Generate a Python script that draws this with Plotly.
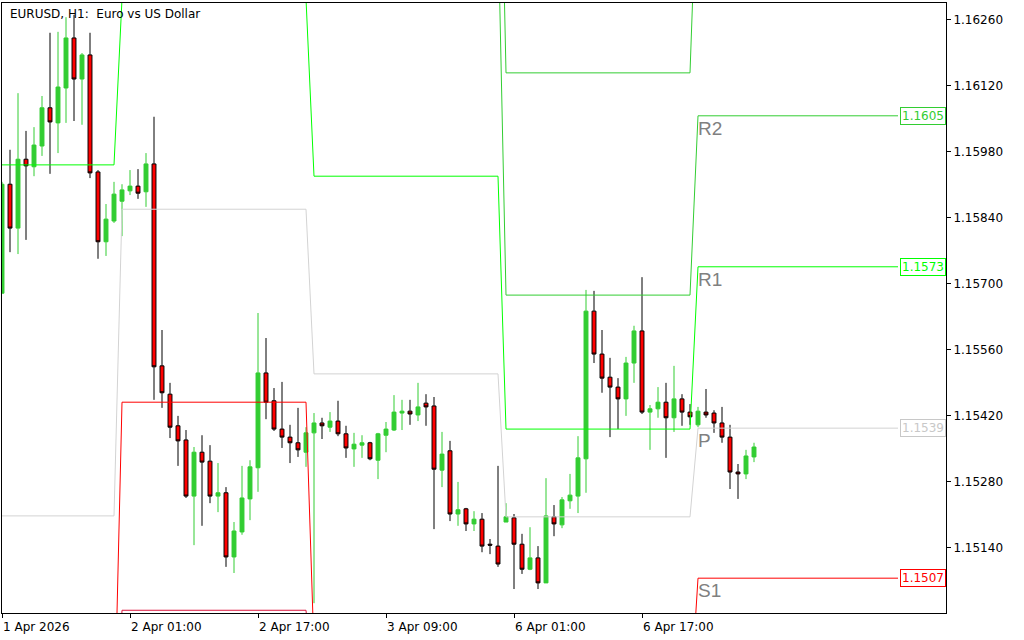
import pandas as pd
import plotly.graph_objects as go

# EURUSD H1 bars, 1 Apr 2026 09:00 .. 7 Apr 07:00 (weekend skipped)
opens = [1.15680, 1.15911, 1.15818, 1.15964, 1.15948, 1.15992, 1.16073, 1.16041, 1.16115, 1.16221,
         1.16134, 1.16185, 1.15937, 1.15789, 1.15833, 1.15875, 1.15897, 1.15907, 1.15895, 1.15954,
         1.15526, 1.15466, 1.15399, 1.15369, 1.15250, 1.15343, 1.15324, 1.15250, 1.15257, 1.15121,
         1.15174, 1.15244, 1.15310, 1.15511, 1.15452, 1.15392, 1.15375, 1.15363, 1.15343, 1.15384,
         1.15405, 1.15396, 1.15409, 1.15382, 1.15350, 1.15358, 1.15363, 1.15326, 1.15379, 1.15390,
         1.15426, 1.15430, 1.15422, 1.15447, 1.15441, 1.15305, 1.15346, 1.15212, 1.15223, 1.15191,
         1.15201, 1.15148, 1.15144, 1.15195, 1.15204, 1.15148, 1.15095, 1.15119, 1.15066, 1.15206,
         1.15189, 1.15240, 1.15250, 1.15329, 1.15642, 1.15551, 1.15502, 1.15481, 1.15456, 1.15532,
         1.15600, 1.15428, 1.15435, 1.15449, 1.15416, 1.15456, 1.15428, 1.15401, 1.15428, 1.15426,
         1.15405, 1.15375, 1.15301, 1.15297, 1.15333]
highs = [1.15916, 1.15984, 1.16104, 1.16024, 1.16032, 1.16098, 1.16232, 1.16234, 1.16265, 1.16270,
         1.16189, 1.16232, 1.15941, 1.15869, 1.15916, 1.15911, 1.15941, 1.15943, 1.15977, 1.16054,
         1.15602, 1.15490, 1.15420, 1.15390, 1.15354, 1.15379, 1.15358, 1.15320, 1.15269, 1.15195,
         1.15314, 1.15326, 1.15638, 1.15585, 1.15479, 1.15492, 1.15401, 1.15437, 1.15396, 1.15426,
         1.15416, 1.15428, 1.15452, 1.15399, 1.15384, 1.15379, 1.15365, 1.15384, 1.15407, 1.15464,
         1.15454, 1.15454, 1.15490, 1.15466, 1.15460, 1.15386, 1.15367, 1.15280, 1.15225, 1.15218,
         1.15214, 1.15159, 1.15314, 1.15235, 1.15212, 1.15170, 1.15184, 1.15144, 1.15288, 1.15231,
         1.15248, 1.15297, 1.15377, 1.15687, 1.15685, 1.15602, 1.15543, 1.15500, 1.15545, 1.15611,
         1.15714, 1.15443, 1.15481, 1.15490, 1.15526, 1.15466, 1.15445, 1.15439, 1.15477, 1.15432,
         1.15439, 1.15401, 1.15318, 1.15348, 1.15363]
lows = [1.15680, 1.15767, 1.15763, 1.15793, 1.15928, 1.15971, 1.15933, 1.15977, 1.16041, 1.16045,
        1.16037, 1.15924, 1.15753, 1.15759, 1.15829, 1.15801, 1.15888, 1.15880, 1.15863, 1.15454,
        1.15437, 1.15373, 1.15314, 1.15246, 1.15146, 1.15187, 1.15235, 1.15216, 1.15100, 1.15087,
        1.15168, 1.15199, 1.15259, 1.15413, 1.15388, 1.15352, 1.15320, 1.15333, 1.15312, 1.15023,
        1.15371, 1.15386, 1.15377, 1.15331, 1.15312, 1.15331, 1.15326, 1.15286, 1.15343, 1.15388,
        1.15390, 1.15401, 1.15409, 1.15399, 1.15180, 1.15269, 1.15197, 1.15187, 1.15176, 1.15176,
        1.15131, 1.15127, 1.15100, 1.15195, 1.15053, 1.15085, 1.15093, 1.15053, 1.15066, 1.15165,
        1.15182, 1.15223, 1.15214, 1.15257, 1.15532, 1.15469, 1.15375, 1.15392, 1.15420, 1.15490,
        1.15424, 1.15348, 1.15416, 1.15331, 1.15386, 1.15399, 1.15401, 1.15396, 1.15416, 1.15384,
        1.15363, 1.15265, 1.15244, 1.15286, 1.15322]
closes = [1.15911, 1.15818, 1.15964, 1.15950, 1.15994, 1.16073, 1.16043, 1.16117, 1.16221, 1.16134,
          1.16185, 1.15935, 1.15789, 1.15837, 1.15890, 1.15899, 1.15907, 1.15892, 1.15954, 1.15524,
          1.15469, 1.15396, 1.15367, 1.15250, 1.15343, 1.15322, 1.15250, 1.15257, 1.15121, 1.15176,
          1.15246, 1.15312, 1.15511, 1.15449, 1.15392, 1.15375, 1.15363, 1.15348, 1.15384, 1.15405,
          1.15399, 1.15409, 1.15382, 1.15352, 1.15360, 1.15363, 1.15329, 1.15382, 1.15392, 1.15428,
          1.15430, 1.15424, 1.15439, 1.15439, 1.15307, 1.15339, 1.15212, 1.15221, 1.15191, 1.15201,
          1.15144, 1.15146, 1.15106, 1.15206, 1.15148, 1.15095, 1.15119, 1.15066, 1.15208, 1.15191,
          1.15242, 1.15252, 1.15331, 1.15642, 1.15551, 1.15500, 1.15481, 1.15456, 1.15532, 1.15600,
          1.15428, 1.15435, 1.15449, 1.15416, 1.15456, 1.15428, 1.15418, 1.15430, 1.15422, 1.15405,
          1.15375, 1.15301, 1.15297, 1.15335, 1.15354]

# daily pivot levels (one value per trading day, None = not drawn)
r3 = [None, None, 1.16937, 1.16147, 1.16619]
r2 = [None, None, 1.16471, 1.15676, 1.16056]
r1 = [1.15952, 1.16304, 1.15928, 1.15392, 1.15736]
pp = [1.15208, 1.15858, 1.15509, 1.15206, 1.15394]
s1 = [1.14733, 1.15449, 1.14924, 1.14805, 1.15076]
s2 = [1.14606, 1.15008, 1.14818, None, None]

level_names = ["R2", "R1", "P", "S1"]
level_tags = ["1.1605", "1.1573", "1.1539", "1.1507"]

tick_times = ["2026-04-01 09:00", "2026-04-02 01:00", "2026-04-02 17:00",
              "2026-04-03 09:00", "2026-04-06 01:00", "2026-04-06 17:00"]
tick_labels = ["1 Apr 2026", "2 Apr 01:00", "2 Apr 17:00", "3 Apr 09:00", "6 Apr 01:00", "6 Apr 17:00"]

times = pd.date_range("2026-04-01 09:00", "2026-04-07 07:00", freq="h")
times = times[times.dayofweek < 5]
idx = list(range(len(times)))
day_of_bar = pd.Series(times.normalize()).rank(method="dense").astype(int).sub(1).tolist()
last_day_start = day_of_bar.index(day_of_bar[-1])
line_end = idx[-1] + 18  # lines run on up to the price tags

tick_idx = [list(times).index(pd.Timestamp(t)) for t in tick_times]

fig = go.Figure()

levels = [(r3, "#32CD32"), (r2, "#32CD32"), (r1, "#00FF00"),
          (pp, "#D3D3D3"), (s1, "#FF0000"), (s2, "#DC143C")]
for vals, col in levels:
    ys = [vals[d] for d in day_of_bar] + [vals[-1]]
    fig.add_trace(go.Scatter(x=idx + [line_end], y=ys, mode="lines",
                             line=dict(color=col, width=1), hoverinfo="skip"))

fig.add_trace(go.Candlestick(
    x=idx, open=opens, high=highs, low=lows, close=closes,
    increasing=dict(line=dict(color="#32CD32", width=1), fillcolor="#32CD32"),
    decreasing=dict(line=dict(color="black", width=1), fillcolor="#FF0000"),
    whiskerwidth=0))

annotations = [dict(
    x=0, y=1, xref="paper", yref="paper", xanchor="left", yanchor="top",
    xshift=6, yshift=-2, showarrow=False,
    text="EURUSD, H1:  Euro vs US Dollar",
    font=dict(family="DejaVu Sans", size=12, color="black"))]

for name, tag, vals, col in zip(level_names, level_tags, [r2, r1, pp, s1],
                                ["#32CD32", "#00FF00", "#C8C8C8", "#FF0000"]):
    annotations.append(dict(
        x=last_day_start, y=vals[-1], xref="x", yref="y", xanchor="left", yanchor="top",
        xshift=-2, showarrow=False, text=name,
        font=dict(family="Liberation Sans", size=19, color="#808080")))
    annotations.append(dict(
        x=1, y=vals[-1], xref="paper", yref="y", xanchor="right", yanchor="middle",
        showarrow=False, text=tag, bgcolor="white", bordercolor=col, borderwidth=1,
        borderpad=1, font=dict(family="DejaVu Sans", size=12, color=col)))

fig.update_layout(
    width=1024, height=640,
    margin=dict(l=2, r=78, t=3, b=27),
    plot_bgcolor="white", paper_bgcolor="white",
    showlegend=False,
    font=dict(family="DejaVu Sans", size=12, color="black"),
    annotations=annotations,
)
fig.update_xaxes(
    range=[0, 118], tickvals=tick_idx, ticktext=tick_labels,
    ticks="outside", ticklen=4, tickcolor="black", ticklabelposition="outside right",
    ticklabelstandoff=3,
    showline=True, linecolor="black", linewidth=1, mirror=True,
    showgrid=False, zeroline=False, rangeslider_visible=False)
fig.update_yaxes(
    side="right", range=[1.150022, 1.162951], tick0=1.1514, dtick=0.0014, tickformat=".5f",
    ticks="outside", ticklen=4, tickcolor="black",
    showline=True, linecolor="black", linewidth=1, mirror=True,
    showgrid=False, zeroline=False)

# page body has a default 8px margin; drop it so the figure sits at the window corner
fig.write_html("out.html", config={"displayModeBar": False},
               post_script="document.body.style.margin='0';")
